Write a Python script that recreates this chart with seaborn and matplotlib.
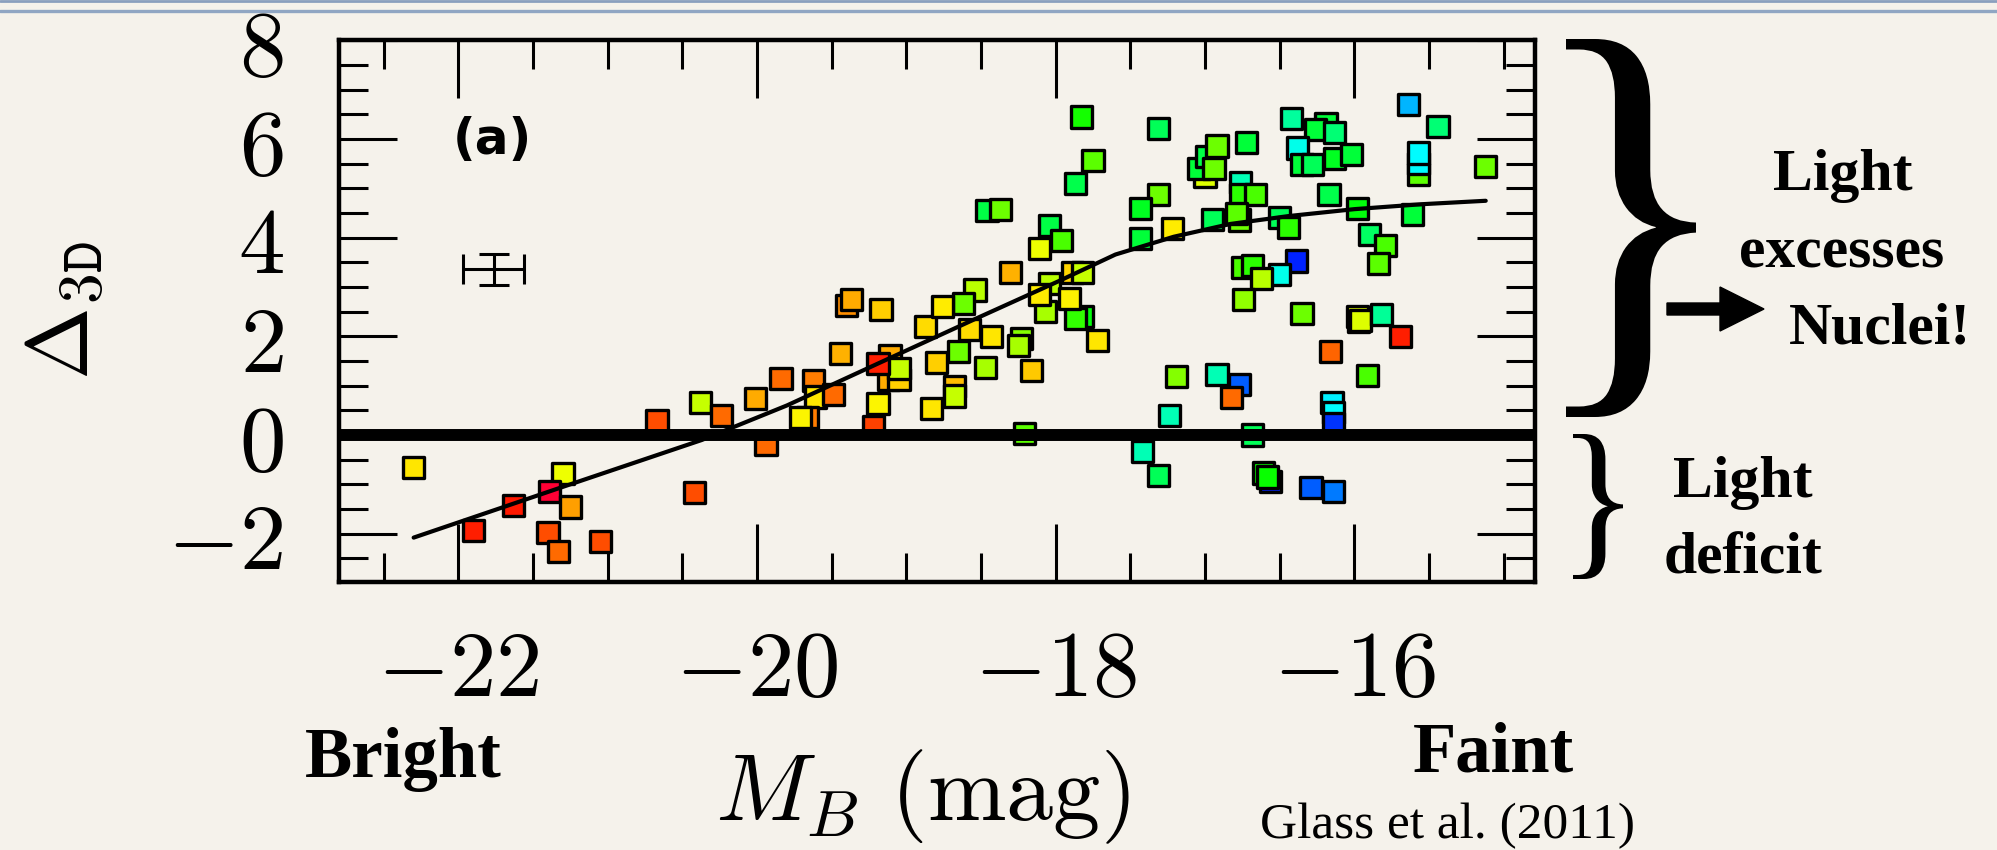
import matplotlib
matplotlib.use("Agg")
import matplotlib.pyplot as plt
import numpy as np
import pandas as pd
import seaborn as sns
from matplotlib.lines import Line2D
from matplotlib.patches import PathPatch, FancyArrow
from matplotlib.textpath import TextPath
from matplotlib.font_manager import FontProperties
from matplotlib.transforms import Affine2D, IdentityTransform
from matplotlib.ticker import MultipleLocator

# ---------------------------------------------------------------------------
# Galaxy sample: absolute B magnitude, central light excess/deficit, colour hue
# ---------------------------------------------------------------------------
mag_b = [
    -22.30, -21.90, -21.63, -21.30, -21.39, -21.25, -21.40, -21.33, -21.05, -20.42,
    -20.67, -20.38, -20.24,
    -20.01, -19.84, -19.62, -19.61, -19.49, -19.66, -19.71, -19.44, -19.11, -19.12,
    -19.05, -19.05, -19.19, -19.19, -19.22, -19.94, -18.87, -18.80, -18.65, -18.58,
    -18.43, -18.47, -18.68, -18.68, -18.83, -18.23, -18.25, -18.16, -18.07, -17.82,
    -17.87, -17.72, -18.21,
    -17.83, -17.75, -17.87, -18.46, -18.37, -18.04, -18.11, -17.96, -18.30, -17.89,
    -17.82, -18.04, -18.11, -17.91, -18.54, -18.62, -18.76, -19.40, -19.37, -19.17,
    -17.31, -17.00, -17.04, -16.99, -16.92, -16.94, -16.72, -16.76, -16.76, -16.66,
    -16.77, -16.79, -16.95, -17.31, -17.43, -17.22, -17.43, -16.50, -16.44, -16.39,
    -16.50, -16.75, -16.68, -16.62, -16.74, -16.35, -16.42, -16.19, -16.26, -16.13,
    -16.38, -16.13, -16.02, -16.35, -16.28, -16.17, -15.98, -15.90, -15.79, -15.84,
    -15.64, -15.44, -15.57, -15.57, -15.57, -15.61, -15.12,
    -15.97, -15.98, -15.96, -15.82, -15.69, -16.16, -15.91, -17.19, -16.92, -16.77,
    -16.82, -17.24, -16.15, -16.14, -16.14, -16.68, -17.42, -17.31, -16.61, -16.56,
    -16.58, -16.29, -16.14,
]
delta_3d = [
    -0.65, -1.93, -1.43, -0.78, -1.14, -1.46, -1.98, -2.36, -2.16, -1.16,
    0.30, 0.66, 0.39,
    0.74, 1.14, 1.10, 0.77, 0.82, 0.35, 0.36, 1.66, 1.62, 1.12,
    1.12, 1.35, 1.45, 0.64, 0.17, -0.20, 2.20, 1.47, 1.70, 2.14,
    1.99, 1.37, 0.99, 0.79, 0.53, 1.96, 1.81, 1.30, 2.50, 2.40,
    2.37, 1.91, 0.03,
    6.45, 5.57, 5.10, 4.56, 4.58, 4.25, 3.79, 3.94, 3.29, 3.30,
    3.30, 3.08, 2.85, 2.76, 2.94, 2.66, 2.60, 2.62, 2.75, 2.54,
    6.21, 5.24, 5.41, 5.65, 5.86, 5.41, 5.93, 5.12, 4.87, 4.87,
    4.36, 4.50, 4.37, 4.87, 4.60, 4.19, 3.98, 4.41, 4.20, 3.53,
    3.26, 3.39, 3.43, 3.18, 2.74, 2.47, 6.41, 6.32, 6.19, 6.14,
    5.82, 5.60, 5.69, 5.48, 5.48, 4.88, 4.60, 4.06, 3.85, 3.48,
    6.70, 6.25, 5.28, 5.50, 5.72, 4.48, 5.44,
    2.30, 2.41, 2.33, 2.44, 1.99, 1.70, 1.21, 1.18, 1.23, 1.03,
    0.76, 0.39, 0.66, 0.45, 0.23, 0.00, -0.34, -0.82, -0.77, -0.94,
    -0.85, -1.07, -1.14,
]
# colour of each galaxy as a hue angle (degrees): red -> yellow -> green -> blue
colour_hue = [
    56, 8, 6, 65, 352, 38, 19, 26, 19, 19,
    19, 75, 26,
    41, 26, 30, 55, 26, 30, 60, 43, 41, 41,
    50, 75, 8, 60, 16, 26, 53, 50, 97, 53,
    56, 82, 45, 75, 56, 90, 82, 49, 82, 125,
    110, 56, 100,
    118, 100, 140, 138, 97, 138, 65, 105, 43, 52,
    75, 78, 57, 58, 78, 97, 57, 35, 42, 50,
    143, 70, 135, 138, 97, 97, 135, 165, 112, 105,
    97, 100, 143, 97, 130, 57, 135, 143, 112, 236,
    178, 105, 112, 78, 88, 97, 160, 135, 135, 150,
    178, 130, 135, 135, 143, 140, 125, 145, 105, 100,
    200, 150, 100, 184, 184, 135, 97,
    120, 68, 70, 158, 8, 24, 105, 90, 165, 221,
    26, 165, 186, 184, 232, 143, 165, 143, 120, 236,
    120, 221, 214,
]

# Best-fit trend of the light excess with magnitude
fit_mag = [-22.30, -21.30, -20.37, -19.80, -19.19, -18.52, -17.98, -17.60,
           -17.21, -16.83, -16.44, -16.00, -15.55, -15.12]
fit_delta = [-2.08, -1.05, -0.10, 0.60, 1.45, 2.38, 3.12, 3.66,
             4.02, 4.28, 4.44, 4.58, 4.68, 4.75]

# Typical uncertainty of a single measurement
err_mag, err_delta = -21.765, 3.36
err_mag_size, err_delta_size = 0.205, 0.32

x_tick_values = [-22, -20, -18, -16]
x_tick_labels = [r"$-22$", r"$-20$", r"$-18$", r"$-16$"]
y_tick_values = [-2, 0, 2, 4, 6, 8]
y_tick_labels = [r"$-2$", r"$0$", r"$2$", r"$4$", r"$6$", r"$8$"]

# ---------------------------------------------------------------------------
W, H, DPI = 1997, 850, 100
BG = "#f5f2eb"


def fx(px):
    return px / W


def fy(py):
    return 1.0 - py / H


sns.set_theme(style="ticks")
plt.rcParams.update({
    "font.family": ["DejaVu Sans"],
    "mathtext.fontset": "cm",
    "figure.facecolor": BG,
    "axes.facecolor": BG,
    "savefig.facecolor": BG,
    "text.color": "black",
    "axes.edgecolor": "black",
    "xtick.color": "black",
    "ytick.color": "black",
})

fig = plt.figure(figsize=(W / DPI, H / DPI), dpi=DPI)
ax = fig.add_axes([fx(339), fy(582), 1196 / W, 542 / H])

df = pd.DataFrame({"mag_b": mag_b, "delta_3d": delta_3d, "hue": colour_hue})
sns.scatterplot(data=df, x="mag_b", y="delta_3d", hue="hue", palette="hsv",
                hue_norm=(0, 360), marker="s", s=232, edgecolor="black",
                linewidth=2.4, legend=False, ax=ax, zorder=3)

sns.lineplot(x=fit_mag, y=fit_delta, sort=False, estimator=None,
             color="black", lw=3.0, ax=ax, zorder=4)
ax.axhline(0, color="black", lw=8.6, zorder=5)

ax.errorbar([err_mag], [err_delta], xerr=[err_mag_size], yerr=[err_delta_size],
            fmt="none", ecolor="black", elinewidth=2.2, capsize=11, capthick=2.2,
            zorder=4)
ax.text(-21.77, 5.98, "(a)", fontsize=36, fontweight="bold", ha="center",
        va="center", family="DejaVu Sans", color="black")

ax.set_xlim(-22.80, -14.79)
ax.set_ylim(-2.98, 8.01)
ax.set_xticks(x_tick_values)
ax.set_xticklabels(x_tick_labels)
ax.set_yticks(y_tick_values)
ax.set_yticklabels(y_tick_labels)
ax.xaxis.set_minor_locator(MultipleLocator(0.5))
ax.yaxis.set_minor_locator(MultipleLocator(0.5))
ax.tick_params(which="both", direction="in", top=True, right=True,
               width=2.2, color="black")
ax.tick_params(which="major", length=41.8, labelsize=67, labelcolor="black")
ax.tick_params(which="minor", length=20.9)
ax.tick_params(axis="y", which="major", pad=40)
ax.tick_params(axis="x", which="major", pad=31)
ax.set_xlabel("")
ax.set_ylabel("")
for sp in ax.spines.values():
    sp.set_linewidth(3.2)
    sp.set_color("black")
    sp.set_zorder(6)

# Axis titles
fig.text(fx(64), fy(310), r"$\Delta_{\mathtt{3D}}$", rotation=90, fontsize=63,
         ha="center", va="center")
fig.text(fx(922), fy(820), r"$M_B\ (\mathrm{mag})$", fontsize=68,
         ha="center", va="baseline")

# Annotations
serif_bold = dict(family="Liberation Serif", fontweight="bold", color="black")
fig.text(fx(403), fy(777), "Bright", fontsize=51, ha="center", va="baseline", **serif_bold)
fig.text(fx(1493), fy(772), "Faint", fontsize=51, ha="center", va="baseline", **serif_bold)
fig.text(fx(1447), fy(838), "Glass et al. (2011)", fontsize=37, ha="center",
         va="baseline", family="Liberation Serif", color="black")
fig.text(fx(1843), fy(190), "Light", fontsize=43, ha="center", va="baseline", **serif_bold)
fig.text(fx(1842), fy(267), "excesses", fontsize=43, ha="center", va="baseline", **serif_bold)
fig.text(fx(1789), fy(343), "Nuclei!", fontsize=43, ha="left", va="baseline", **serif_bold)
fig.text(fx(1743), fy(497), "Light", fontsize=43, ha="center", va="baseline", **serif_bold)
fig.text(fx(1743), fy(573), "deficit", fontsize=43, ha="center", va="baseline", **serif_bold)


def brace(x0, x1, ytop, ybot):
    """Draw a '}' glyph stretched to fill a pixel box (y measured from top)."""
    tp = TextPath((0, 0), "}", size=100, prop=FontProperties(family="Liberation Serif"))
    ext = tp.get_extents()
    sx = (x1 - x0) / ext.width
    sy = (ybot - ytop) / ext.height
    tr = (Affine2D().translate(-ext.x0, -ext.y0).scale(sx, sy)
          .translate(x0, H - ybot))
    patch = PathPatch(tr.transform_path(tp), facecolor="black",
                      edgecolor="none", transform=IdentityTransform())
    fig.add_artist(patch)


brace(1566, 1696, 39, 417)
brace(1573, 1623, 434, 579)

fig.add_artist(FancyArrow(1667, H - 309, 97, 0, width=12, head_width=44,
                          head_length=44, length_includes_head=True,
                          color="black", transform=IdentityTransform()))

# Slide header rules
fig.add_artist(Line2D([0, 1], [fy(1.2), fy(1.2)], transform=fig.transFigure,
                      color="#8a9fbe", lw=2.0))
fig.add_artist(Line2D([0, 1], [fy(11.3), fy(11.3)], transform=fig.transFigure,
                      color="#90a6c3", lw=2.4))

fig.savefig("out.png", dpi=DPI, facecolor=BG)
